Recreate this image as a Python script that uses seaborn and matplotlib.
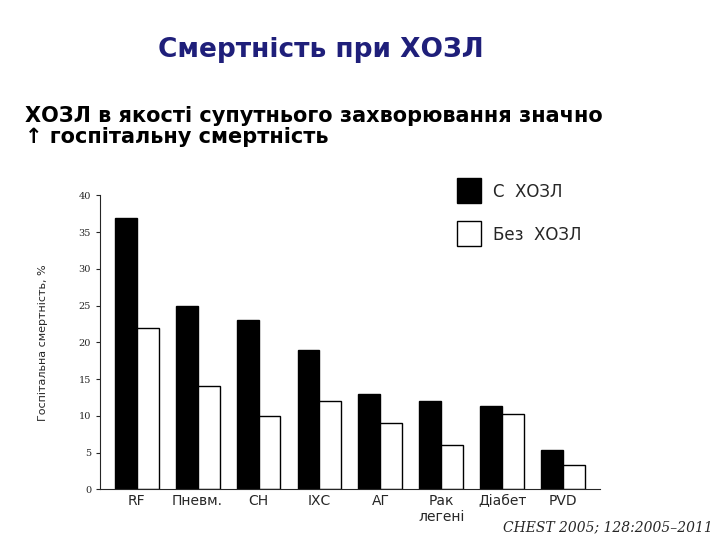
import pandas as pd
import matplotlib.pyplot as plt
import seaborn as sns

categories = ["RF", "Пневм.", "СН", "ІХС", "АГ", "Рак\nлегені", "Діабет", "PVD"]
with_copd = [37, 25, 23, 19, 13, 12, 11.3, 5.3]
without_copd = [22, 14, 10, 12, 9, 6, 10.3, 3.3]
series = ["С  ХОЗЛ", "Без  ХОЗЛ"]

df = pd.DataFrame({
    "cat": categories * 2,
    "val": with_copd + without_copd,
    "grp": [series[0]] * len(categories) + [series[1]] * len(categories),
})

sns.set_style("white")
plt.rcParams['font.family'] = ['DejaVu Sans']

fig = plt.figure(figsize=(7.2, 5.4), dpi=100)
ax = fig.add_axes([0.139, 0.094, 0.694, 0.544])
sns.barplot(data=df, x="cat", y="val", hue="grp", palette=["black", "white"],
            edgecolor="black", linewidth=1, width=0.72, ax=ax, legend=False)

ax.set_ylim(0, 40)
ax.set_yticks(range(0, 41, 5))
ax.tick_params(axis='y', labelsize=7, length=3, direction='out', left=True)
for t in ax.get_yticklabels():
    t.set_family('DejaVu Serif')
ax.tick_params(axis='x', labelsize=10, length=0)
ax.set_xlabel("")
ax.set_ylabel("Госпітальна смертність, %", fontsize=8, labelpad=22)
ax.set_xlim(-0.6, 7.6)
sns.despine(ax=ax, top=True, right=True)

fig.text(0.445, 0.895, "Смертність при ХОЗЛ", fontsize=19, fontweight='bold',
         color='#1f1f7a', ha='center')
fig.text(0.035, 0.735, "ХОЗЛ в якості супутнього захворювання значно\n↑ госпітальну смертність",
         fontsize=15, fontweight='bold', ha='left', linespacing=1.1, color='black')

# legend squares
for y, lab, fc in [(0.625, series[0], 'black'), (0.545, series[1], 'white')]:
    fig.patches.append(plt.Rectangle((0.635, y), 0.033, 0.045, transform=fig.transFigure,
                                     facecolor=fc, edgecolor='black', lw=1))
    fig.text(0.685, y + 0.02, lab, fontsize=12, va='center')

fig.text(0.99, 0.01, "CHEST 2005; 128:2005–2011", fontsize=10, style='italic',
         family='DejaVu Serif', ha='right', va='bottom')

fig.savefig("out.png", dpi=100)
